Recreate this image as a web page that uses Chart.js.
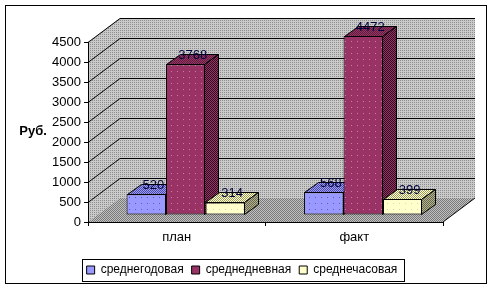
<!DOCTYPE html>
<html>
<head>
<meta charset="utf-8">
<script src="https://cdn.jsdelivr.net/npm/chart.js@4/dist/chart.umd.min.js"></script>
<style>
  body { margin: 0; background: #fff; }
  canvas { display: block; }
</style>
</head>
<body>
<canvas id="wageChart" width="493" height="290"></canvas>
<script>
const categories = ["план", "факт"];
const seriesNames = ["среднегодовая", "среднедневная", "среднечасовая"];
const avgYear = [520, 568];
const avgDay = [3768, 4472];
const avgHour = [314, 399];
const yMax = 4500;
const yStep = 500;

const FONT = "'Liberation Sans', Arial, sans-serif";
const faceColors = ["#9999ff", "#993366", "#ffffcc"];

// 3d geometry (pixels)
const WALL_DX = 32, WALL_DY = 24;
const BAR_DX = 14, BAR_DY = 10;
const SHIFT_X = 9, SHIFT_Y = -7;

function dotPattern(base, dot, step) {
  const c = document.createElement("canvas");
  c.width = c.height = step;
  const g = c.getContext("2d");
  g.fillStyle = base;
  g.fillRect(0, 0, step, step);
  g.fillStyle = dot;
  g.fillRect(0, 0, 1, 1);
  return g.createPattern(c, "repeat");
}

function checkPattern(a, b) {
  const c = document.createElement("canvas");
  c.width = c.height = 2;
  const g = c.getContext("2d");
  g.fillStyle = a;
  g.fillRect(0, 0, 2, 2);
  g.fillStyle = b;
  g.fillRect(0, 0, 1, 1);
  g.fillRect(1, 1, 1, 1);
  return g.createPattern(c, "repeat");
}

const wallFill = dotPattern("#cacaca", "#8e8e8e", 2);
const floorFill = checkPattern("#c0c0c0", "#7a7a7a");
const faceFills = [
  dotPattern("#9999ff", "#5c5cb8", 6),
  dotPattern("#993366", "#d07aa5", 6),
  dotPattern("#ffffcc", "#d8d8a8", 6)
];
const topFills = [
  checkPattern("#9999ff", "#4d4d99"),
  checkPattern("#993366", "#5c1f3d"),
  checkPattern("#ffffcc", "#999966")
];
const sideFills = [
  checkPattern("#9999ff", "#333366"),
  checkPattern("#993366", "#2e0f1f"),
  checkPattern("#b3b38f", "#66664d")
];

function poly(ctx, pts, fill) {
  ctx.beginPath();
  ctx.moveTo(pts[0][0], pts[0][1]);
  for (let i = 1; i < pts.length; i++) ctx.lineTo(pts[i][0], pts[i][1]);
  ctx.closePath();
  if (fill) {
    ctx.fillStyle = fill;
    ctx.fill();
  }
}

const box3d = {
  id: "box3d",
  beforeDraw(chart) {
    const ctx = chart.ctx;
    const { x, y } = chart.scales;
    const l = x.left, r = x.right;
    const y0 = y.getPixelForValue(0), yt = y.getPixelForValue(yMax);
    ctx.save();
    ctx.fillStyle = "#fff";
    ctx.fillRect(0, 0, chart.width, chart.height);
    ctx.strokeStyle = "#000";
    ctx.lineWidth = 1;
    ctx.strokeRect(5.5, 5.5, 481, 278);

    // walls and floor
    ctx.fillStyle = wallFill;
    ctx.fillRect(l + WALL_DX, yt - WALL_DY, r - l, y0 - yt);
    poly(ctx, [[l, y0], [l, yt], [l + WALL_DX, yt - WALL_DY], [l + WALL_DX, y0 - WALL_DY]], wallFill);
    poly(ctx, [[l, y0], [r, y0], [r + WALL_DX, y0 - WALL_DY], [l + WALL_DX, y0 - WALL_DY]], floorFill);

    // gridlines
    ctx.strokeStyle = "#000";
    y.ticks.forEach(t => {
      if (t.value === 0) return;
      const py = Math.round(y.getPixelForValue(t.value)) + 0.5;
      ctx.beginPath();
      ctx.moveTo(l, py);
      ctx.lineTo(l + WALL_DX, py - WALL_DY);
      ctx.lineTo(r + WALL_DX, py - WALL_DY);
      ctx.stroke();
    });
    ctx.beginPath();
    ctx.moveTo(r, y0);
    ctx.lineTo(r + WALL_DX, y0 - WALL_DY);
    ctx.stroke();

    // axis title
    ctx.fillStyle = "#000";
    ctx.font = "bold 13px " + FONT;
    ctx.textAlign = "center";
    ctx.textBaseline = "middle";
    ctx.fillText("Руб.", 33, 131);
    ctx.restore();
  },
  beforeDatasetDraw() {
    return false;
  },
  afterDatasetsDraw(chart) {
    const ctx = chart.ctx;
    const metas = chart.data.datasets.map((d, i) => chart.getDatasetMeta(i));
    ctx.save();
    ctx.translate(SHIFT_X, SHIFT_Y);
    ctx.strokeStyle = "#000";
    ctx.lineWidth = 1;
    categories.forEach((c, ci) => {
      metas.forEach((meta, di) => {
        const bar = meta.data[ci];
        bar.draw(ctx);
        const { x, y, base, width } = bar.getProps(["x", "y", "base", "width"], true);
        const l = Math.round(x - width / 2) + 0.5, r = Math.round(x + width / 2) - 0.5;
        const t = Math.round(y) + 0.5, b = Math.round(base) - 0.5;
        poly(ctx, [[l, t], [l + BAR_DX, t - BAR_DY], [r + BAR_DX, t - BAR_DY], [r, t]], topFills[di]);
        ctx.stroke();
        poly(ctx, [[r, t], [r + BAR_DX, t - BAR_DY], [r + BAR_DX, b - BAR_DY], [r, b]], sideFills[di]);
        ctx.stroke();
      });
    });
    // value labels
    ctx.fillStyle = "#00003a";
    ctx.font = "13px " + FONT;
    ctx.textAlign = "center";
    ctx.textBaseline = "middle";
    metas.forEach(meta => {
      meta.data.forEach((bar, i) => {
        const v = chart.data.datasets[meta.index].data[i];
        ctx.fillText(String(v), bar.x + BAR_DX / 2, bar.y - 9);
      });
    });
    ctx.restore();
  },
  afterDraw(chart) {
    const lg = chart.legend;
    if (!lg || !lg.legendHitBoxes.length) return;
    const hb = lg.legendHitBoxes;
    const left = Math.min(...hb.map(h => h.left)) - 5;
    const right = Math.max(...hb.map(h => h.left + h.width)) + 6;
    const top = hb[0].top - 5;
    const bottom = hb[0].top + hb[0].height + 5;
    const ctx = chart.ctx;
    ctx.save();
    ctx.strokeStyle = "#000";
    ctx.lineWidth = 1;
    ctx.strokeRect(Math.round(left) + 0.5, Math.round(top) + 0.5, Math.round(right - left), Math.round(bottom - top));
    ctx.restore();
  }
};

const datasetValues = [avgYear, avgDay, avgHour];

new Chart(document.getElementById("wageChart"), {
  type: "bar",
  data: {
    labels: categories,
    datasets: datasetValues.map((vals, i) => ({
      label: seriesNames[i],
      data: vals,
      backgroundColor: faceFills[i],
      borderColor: "#000",
      borderWidth: 1,
      borderSkipped: false,
      inflateAmount: 0,
      barPercentage: 1,
      categoryPercentage: 0.667
    }))
  },
  options: {
    responsive: false,
    animation: false,
    layout: { padding: { left: 41, right: 50, top: 42, bottom: 4 } },
    plugins: {
      tooltip: { enabled: false },
      legend: {
        position: "bottom",
        labels: {
          boxWidth: 8,
          boxHeight: 8,
          padding: 8,
          color: "#000",
          font: { family: FONT, size: 12 },
          generateLabels(chart) {
            return chart.data.datasets.map((d, i) => ({
              text: d.label,
              fillStyle: faceColors[i],
              strokeStyle: "#000",
              lineWidth: 1,
              datasetIndex: i
            }));
          }
        }
      }
    },
    scales: {
      x: {
        grid: { display: true, offset: true, drawOnChartArea: false, tickLength: 4, color: "#000" },
        border: { color: "#000" },
        ticks: { color: "#000", padding: 4, font: { family: FONT, size: 13 } },
        afterFit(scale) { scale.height = 34; }
      },
      y: {
        min: 0,
        max: yMax,
        grid: { display: true, drawOnChartArea: false, tickLength: 4, color: "#000" },
        border: { color: "#000" },
        ticks: {
          stepSize: yStep,
          color: "#000",
          padding: 3,
          font: { family: FONT, size: 13 },
          callback: v => String(v)
        },
        afterFit(scale) { scale.width = 47; }
      }
    }
  },
  plugins: [box3d]
});
</script>
</body>
</html>
